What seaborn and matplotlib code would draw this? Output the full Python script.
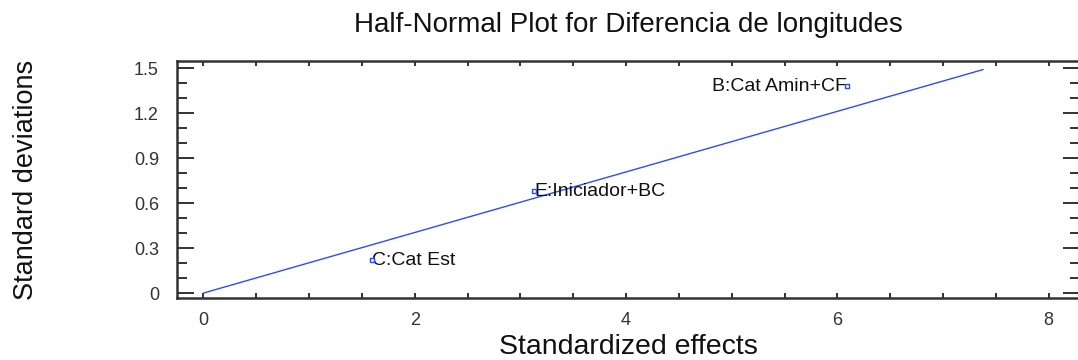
import matplotlib
matplotlib.use("Agg")
import matplotlib.pyplot as plt
import seaborn as sns
import numpy as np
import pandas as pd
from matplotlib.ticker import MultipleLocator

effects = ["B:Cat Amin+CF", "E:Iniciador+BC", "C:Cat Est"]
std_effects = [6.09, 3.13, 1.60]
std_devs = [1.38, 0.68, 0.22]
line_x = [0.0, 7.38]
line_y = [0.0, 1.49]

sns.set_theme(style="white")
plt.rcParams['font.family'] = ['Liberation Sans', 'DejaVu Sans']

fig = plt.figure(figsize=(10.78, 3.6), dpi=100)
ax = fig.add_axes([0.1642, 0.1722, 0.838, 0.6584])

blue = "#2b4cff"
sns.lineplot(x=line_x, y=line_y, ax=ax, color=blue, linewidth=1.0)
df = pd.DataFrame({"x": std_effects, "y": std_devs, "label": effects})
sns.scatterplot(data=df, x="x", y="y", ax=ax, marker="s", s=12,
                facecolor="white", edgecolor=blue, linewidth=1.0, zorder=5)

aligns = ["right", "left", "left"]
for (xv, yv, lab, ha) in zip(std_effects, std_devs, effects, aligns):
    ax.text(xv, yv, lab, ha=ha, va="center", fontsize=14, color="#111111")

ax.set_xlim(-0.25, 8.3)
ax.set_ylim(-0.033, 1.547)
ax.xaxis.set_major_locator(MultipleLocator(2))
ax.xaxis.set_minor_locator(MultipleLocator(0.5))
ax.yaxis.set_minor_locator(MultipleLocator(0.1))
ax.set_yticks([0, 0.3, 0.6, 0.9, 1.2, 1.5])
ax.set_yticklabels(["0", "0.3", "0.6", "0.9", "1.2", "1.5"])

ax.tick_params(which="both", direction="in", top=True, right=True,
               bottom=True, left=True, color="#222222", width=1.3)
ax.tick_params(axis="x", which="major", length=3.5, labelsize=13,
               labelcolor="#333333", pad=10)
ax.tick_params(axis="x", which="minor", length=3.5)
ax.tick_params(axis="y", which="major", length=12, labelsize=13,
               labelcolor="#333333", pad=13)
ax.tick_params(axis="y", which="minor", length=7)
for sp in ax.spines.values():
    sp.set_color("#333333")
    sp.set_linewidth(1.8)

ax.set_xlabel("Standardized effects", fontsize=20.5, color="#111111", labelpad=4)
ax.set_ylabel("Standard deviations", fontsize=19.5, color="#111111", labelpad=68)
ax.set_title("Half-Normal Plot for Diferencia de longitudes", fontsize=20,
             color="#111111", pad=21)

fig.savefig("out.png", dpi=100)
